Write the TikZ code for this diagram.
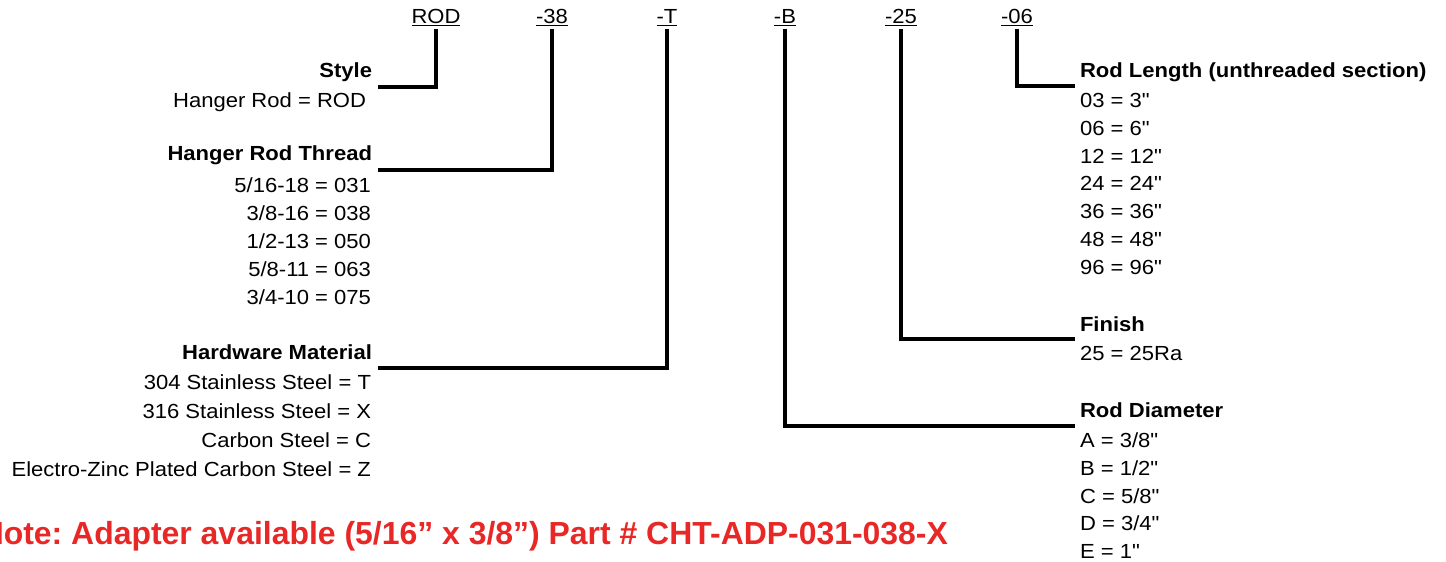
\documentclass[tikz,border=0pt]{standalone}
\usepackage{fontspec}
\setmainfont{Liberation Sans}[FakeStretch=1.08,Ligatures=TeXOff]
\newfontfamily\notefont{Liberation Sans}[Ligatures=TeXOff]
\newcommand\dgfs{\fontsize{15.3}{18}\selectfont}
\definecolor{notered}{RGB}{232,40,38}
\frenchspacing
\begin{document}
\begin{tikzpicture}[x=0.75pt,y=-0.75pt,
  every node/.style={inner sep=0pt, outer sep=0pt},
  code/.style={anchor=base, font=\dgfs},
  ltitle/.style={anchor=base east, font=\dgfs\bfseries},
  litem/.style={anchor=base east, font=\dgfs},
  rtitle/.style={anchor=base west, font=\dgfs\bfseries},
  ritem/.style={anchor=base west, font=\dgfs},
  conn/.style={line width=3.2pt, line join=miter},
  uline/.style={line width=1.1pt},
  note/.style={anchor=base east, font=\notefont\fontsize{23.95}{28}\selectfont\bfseries, text=notered}]
\useasboundingbox (0,0) rectangle (1446,561);

% part-number codes
\node[code] (cROD) at (436,23) {ROD};
\node[code] (c38)  at (552,23) {-38};
\node[code] (cT)   at (667,23) {-T};
\node[code] (cB)   at (785,23) {-B};
\node[code] (c25)  at (901,23) {-25};
\node[code] (c06)  at (1017,23) {-06};
\foreach \n in {cROD,c38,cT,cB,c25,c06}
  \draw[uline] ([yshift=-2pt]\n.base west) -- ([yshift=-2pt]\n.base east);

% left column
\node[ltitle] (tStyle) at (372,77) {Style};
\node[litem] at (366,107) {Hanger Rod = ROD};

\node[ltitle] (tThread) at (372,160) {Hanger Rod Thread};
\node[litem] at (371,192) {5/16-18 = 031};
\node[litem] at (371,220) {3/8-16 = 038};
\node[litem] at (371,248) {1/2-13 = 050};
\node[litem] at (371,276) {5/8-11 = 063};
\node[litem] at (371,304) {3/4-10 = 075};

\node[ltitle] (tHW) at (372,359) {Hardware Material};
\node[litem] at (371,389) {304 Stainless Steel = T};
\node[litem] at (371,418) {316 Stainless Steel = X};
\node[litem] at (371,447) {Carbon Steel = C};
\node[litem] at (371,476) {Electro-Zinc Plated Carbon Steel = Z};

% right column
\node[rtitle] (tLen) at (1080,77) {Rod Length (unthreaded section)};
\node[ritem] at (1080,107) {03 = 3"};
\node[ritem] at (1080,135) {06 = 6"};
\node[ritem] at (1080,163) {12 = 12"};
\node[ritem] at (1080,190) {24 = 24"};
\node[ritem] at (1080,218) {36 = 36"};
\node[ritem] at (1080,246) {48 = 48"};
\node[ritem] at (1080,274) {96 = 96"};

\node[rtitle] (tFin) at (1080,331) {Finish};
\node[ritem] at (1080,360) {25 = 25Ra};

\node[rtitle] (tDia) at (1080,417) {Rod Diameter};
\node[ritem] at (1080,447) {A = 3/8"};
\node[ritem] at (1080,475) {B = 1/2"};
\node[ritem] at (1080,503) {C = 5/8"};
\node[ritem] at (1080,530) {D = 3/4"};
\node[ritem] at (1080,558) {E = 1"};

% connector ends
\coordinate (eStyle)  at (378,87);
\coordinate (eThread) at (378,170);
\coordinate (eHW)     at (378,368);
\coordinate (eDia)    at (1075,426);
\coordinate (eFin)    at (1075,339);
\coordinate (eLen)    at (1075,86);

\draw[conn] ([yshift=-4.5pt]cROD.base) |- (eStyle);
\draw[conn] ([yshift=-4.5pt]c38.base)  |- (eThread);
\draw[conn] ([yshift=-4.5pt]cT.base)   |- (eHW);
\draw[conn] ([yshift=-4.5pt]cB.base)   |- (eDia);
\draw[conn] ([yshift=-4.5pt]c25.base)  |- (eFin);
\draw[conn] ([yshift=-4.5pt]c06.base)  |- (eLen);

% note
\node[note] (note) at (948,544) {Note: Adapter available (5/16” x 3/8”) Part \# CHT-ADP-031-038-X};
\end{tikzpicture}
\end{document}
